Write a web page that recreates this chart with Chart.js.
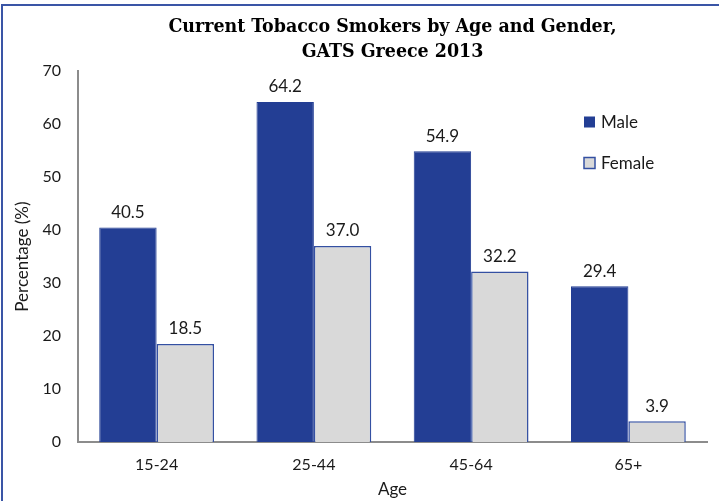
<!DOCTYPE html>
<html>
<head>
<meta charset="utf-8">
<script src="https://cdn.jsdelivr.net/npm/chart.js@4"></script>
<style>
  html, body { margin: 0; padding: 0; background: #fff; }
  #frame { position: absolute; left: 1px; top: 4px; width: 800px; height: 600px;
           border-left: 2px solid #3a55a6; border-top: 2px solid #3a55a6; }
  #wrap { position: absolute; left: 0; top: 0; width: 719px; height: 501px; }
</style>
</head>
<body>
<div id="frame"></div>
<div id="wrap"><canvas id="myChart"></canvas></div>
<script>
const ages = ['15-24', '25-44', '45-64', '65+'];
const male = [40.5, 64.2, 54.9, 29.4];
const female = [18.5, 37.0, 32.2, 3.9];
const yTicks = [0, 10, 20, 30, 40, 50, 60, 70];

const labelFont = 'Lato, "Noto Sans", sans-serif';

// value labels above each bar
const barLabels = {
  id: 'barLabels',
  afterDatasetsDraw(chart) {
    const c = chart.ctx;
    c.save();
    c.font = '17px ' + labelFont;
    c.fillStyle = '#1a1a1a';
    c.textAlign = 'center';
    c.textBaseline = 'middle';
    chart.data.datasets.forEach((ds, i) => {
      chart.getDatasetMeta(i).data.forEach((bar, j) => {
        c.fillText(ds.data[j].toFixed(1), bar.x, bar.y - 15);
      });
    });
    c.restore();
  }
};

// legend inside the plot, right side
const sideLegend = {
  id: 'sideLegend',
  afterDraw(chart) {
    const c = chart.ctx;
    c.save();
    c.font = '17px ' + labelFont;
    c.textBaseline = 'middle';
    chart.data.datasets.forEach((ds, i) => {
      const y = 122 + i * 41;
      c.fillStyle = ds.backgroundColor;
      c.fillRect(584, y - 5.5, 11, 11);
      if (i === 1) {
        c.strokeStyle = ds.borderColor;
        c.lineWidth = 1.5;
        c.strokeRect(584, y - 5.5, 11, 11);
      }
      c.fillStyle = '#1a1a1a';
      c.fillText(ds.label, 601, y + 1);
    });
    c.restore();
  }
};

new Chart(document.getElementById('myChart'), {
  type: 'bar',
  data: {
    labels: ages,
    datasets: [{
      label: 'Male',
      data: male,
      backgroundColor: '#233e94',
      borderColor: '#233e94',
      borderWidth: 1,
      categoryPercentage: 0.73,
      barPercentage: 1.0
    }, {
      label: 'Female',
      data: female,
      backgroundColor: '#d9d9d9',
      borderColor: '#3450a2',
      borderWidth: 1.5,
      categoryPercentage: 0.73,
      barPercentage: 1.0
    }]
  },
  options: {
    responsive: true,
    maintainAspectRatio: false,
    animation: false,
    layout: { padding: { top: 0, right: 12, bottom: 0, left: 0 } },
    plugins: {
      legend: { display: false },
      tooltip: { enabled: false },
      title: {
        display: true,
        fullSize: false,
        text: ['Current Tobacco Smokers by Age and Gender,', 'GATS Greece 2013'],
        color: '#000',
        font: { family: '"DejaVu Serif Condensed", "DejaVu Serif", serif', size: 19.4, weight: 'bold', lineHeight: 1.32 },
        padding: { top: 14, bottom: 6 }
      }
    },
    scales: {
      x: {
        grid: { display: false, drawTicks: false },
        border: { color: '#8c8c8c', width: 2 },
        ticks: { color: '#1a1a1a', font: { family: labelFont, size: 16 }, padding: 13 },
        title: {
          display: true, text: 'Age', color: '#1a1a1a',
          font: { family: labelFont, size: 17, lineHeight: 1.2 },
          padding: { top: 0, bottom: 1 }
        },
        afterFit(scale) { scale.height = 59; }
      },
      y: {
        min: 0,
        max: 70,
        grid: { display: false, drawTicks: false },
        border: { color: '#8c8c8c', width: 2 },
        afterBuildTicks(scale) { scale.ticks = yTicks.map(v => ({ value: v })); },
        ticks: { color: '#1a1a1a', font: { family: labelFont, size: 16 }, padding: 17 },
        title: {
          display: true, text: 'Percentage (%)', color: '#1a1a1a',
          font: { family: labelFont, size: 17, lineHeight: 1.2 },
          padding: { top: 12, bottom: 0 }
        },
        afterFit(scale) { scale.width = 78; }
      }
    }
  },
  plugins: [barLabels, sideLegend]
});
</script>
</body>
</html>
